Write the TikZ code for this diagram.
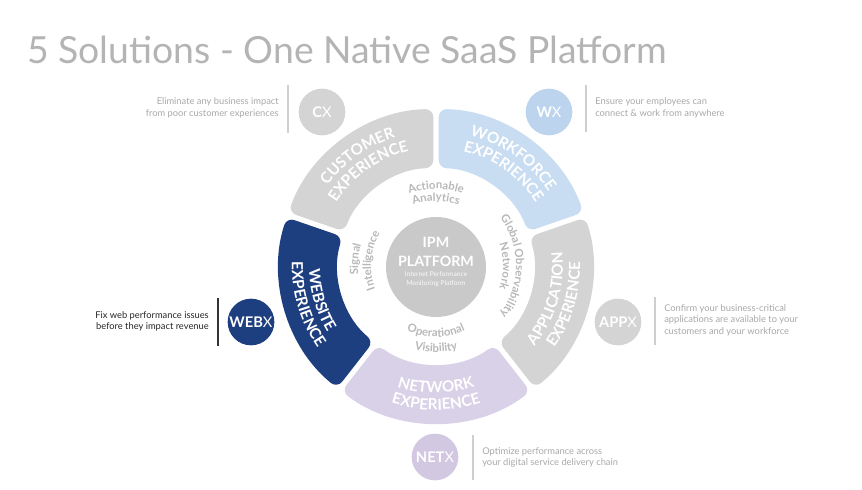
\documentclass[tikz,border=0pt]{standalone}
\usepackage{fontspec}
\setmainfont{Lato}
\newfontfamily\segfont[LetterSpace=8]{Lato}
\usetikzlibrary{decorations.text}

\definecolor{ringgray}{HTML}{D4D4D4}
\definecolor{ipmgray}{HTML}{C9C9C9}
\definecolor{wfblue}{HTML}{C8DCF2}
\definecolor{wxblue}{HTML}{BDD4EE}
\definecolor{netpurple}{HTML}{D9D1E7}
\definecolor{netxpurple}{HTML}{D3C8E2}
\definecolor{webnavy}{HTML}{1E3F7F}
\definecolor{labelgray}{HTML}{B8B8B8}
\definecolor{descgray}{HTML}{A9A9A9}
\definecolor{titlegray}{HTML}{B4B4B4}
\definecolor{linegray}{HTML}{CFCFCF}

\tikzset{
  badge/.style={circle, minimum size=35pt, inner sep=0pt, text=white,
    font=\fontsize{11}{12}\selectfont},
  desc/.style={inner sep=0pt, text=descgray, font=\fontsize{7}{8.6}\selectfont},
  sepline/.style={draw=linegray, line width=0.8pt},
  segtext/.style={decorate, decoration={text along path,
    text={|\fontsize{11.5}{13}\segfont\bfseries|#1}, text align=center, text color=white}},
  ringtext/.style={decorate, decoration={text along path,
    text={|\fontsize{8.5}{10}\selectfont\bfseries|#1}, text align=center, text color=labelgray}},
}

\begin{document}
\begin{tikzpicture}[x=0.75pt, y=0.75pt]
\useasboundingbox (0,0) rectangle (862,-489);
\fill[white] (0,0) rectangle (862,-489);

% title
\node[anchor=base west, inner sep=0pt, text=titlegray, font=\fontsize{28}{32}\selectfont] (title) at (27,-63) {5 Solutions - One Native SaaS Platform};

% ring round the platform
\def\rout{157}
\def\rin{98}
\begin{scope}[shift={(436,-266)}]
\fill[ringgray, rounded corners=6pt] (91:\rout) arc[start angle=91, end angle=160, radius=\rout] -- (159.4:\rin) arc[start angle=159.4, end angle=91.6, radius=\rin] -- cycle;
\fill[wfblue, rounded corners=6pt] (20:\rout) arc[start angle=20, end angle=89, radius=\rout] -- (88.4:\rin) arc[start angle=88.4, end angle=20.6, radius=\rin] -- cycle;
\fill[ringgray, rounded corners=6pt] (-51:\rout) arc[start angle=-51, end angle=18, radius=\rout] -- (17.4:\rin) arc[start angle=17.4, end angle=-50.4, radius=\rin] -- cycle;
\fill[netpurple, rounded corners=6pt] (-127:\rout) arc[start angle=-127, end angle=-53, radius=\rout] -- (-53.6:\rin) arc[start angle=-53.6, end angle=-126.4, radius=\rin] -- cycle;
\fill[webnavy, rounded corners=6pt] (162:\rout) arc[start angle=162, end angle=231, radius=\rout] -- (230.4:\rin) arc[start angle=230.4, end angle=162.6, radius=\rin] -- cycle;

% segment labels
\path[segtext=CUSTOMER] (161:135) arc[start angle=161, end angle=90, radius=135];
\path[segtext=EXPERIENCE] (161:118) arc[start angle=161, end angle=90, radius=118];
\path[segtext=WORKFORCE] (90:135) arc[start angle=90, end angle=19, radius=135];
\path[segtext=EXPERIENCE] (90:118) arc[start angle=90, end angle=19, radius=118];
\path[segtext=APPLICATION] (-52:127) arc[start angle=-52, end angle=19, radius=127];
\path[segtext=EXPERIENCE] (-52:144) arc[start angle=-52, end angle=19, radius=144];
\path[segtext=NETWORK] (-128:127) arc[start angle=-128, end angle=-52, radius=127];
\path[segtext=EXPERIENCE] (-128:144) arc[start angle=-128, end angle=-52, radius=144];
\path[segtext=WEBSITE] (161:127) arc[start angle=161, end angle=232, radius=127];
\path[segtext=EXPERIENCE] (161:144) arc[start angle=161, end angle=232, radius=144];

% labels on the white ring
\path[ringtext=Actionable] (130:77) arc[start angle=130, end angle=50, radius=77];
\path[ringtext=Analytics] (130:65) arc[start angle=130, end angle=50, radius=65];
\path[ringtext=Global Observability] (50:80) arc[start angle=50, end angle=-50, radius=80];
\path[ringtext=Network] (50:67) arc[start angle=50, end angle=-50, radius=67];
\path[ringtext=Signal] (215:78) arc[start angle=215, end angle=135, radius=78];
\path[ringtext=Intelligence] (215:65) arc[start angle=215, end angle=135, radius=65];
\path[ringtext=Operational] (-130:71) arc[start angle=-130, end angle=-50, radius=71];
\path[ringtext=Visibility] (-130:86) arc[start angle=-130, end angle=-50, radius=86];

% platform in the middle
\node[circle, fill=ipmgray, minimum size=75pt, inner sep=0pt] (ipm) at (0,-1) {};
\end{scope}
\node[align=center, text=white, font=\fontsize{10.7}{14}\bfseries] (ipmname) at (436,-252) {IPM\\PLATFORM};
\node[align=center, text=white!90!ipmgray, font=\fontsize{5}{6.7}\selectfont] (ipmsub) at (436,-279) {Internet Performance\\Monitoring Platform};

% solution badges
\node[badge, fill=ringgray] (cx) at (322,-112) {\textbf{C}X};
\node[badge, fill=wxblue] (wx) at (549,-112) {\textbf{W}X};
\node[badge, fill=webnavy] (webx) at (251,-322) {\textbf{WEB}X};
\node[badge, fill=ringgray] (appx) at (618,-322) {\textbf{APP}X};
\node[badge, fill=netxpurple] (netx) at (435,-457) {\textbf{NET}X};

% separators
\draw[sepline] (288,-85) -- (288,-133);
\draw[sepline] (586,-85) -- (586,-132);
\draw[sepline, draw=black!80] (218,-298) -- (218,-346);
\draw[sepline] (655,-297) -- (655,-345);
\draw[sepline] (473,-435) -- (473,-480);

% descriptions
\node[desc, anchor=east, align=right] (cxtext) at (279,-108) {Eliminate any business impact\\from poor customer experiences};
\node[desc, anchor=west, align=left] (wxtext) at (595,-108) {Ensure your employees can\\connect \& work from anywhere};
\node[desc, anchor=east, align=right, text=black!85] (webxtext) at (209,-321.5) {Fix web performance issues\\before they impact revenue};
\node[desc, anchor=west, align=left] (appxtext) at (664,-320) {Confirm your business-critical\\applications are available to your\\customers and your workforce};
\node[desc, anchor=west, align=left] (netxtext) at (482,-457.5) {Optimize performance across\\your digital service delivery chain};
\end{tikzpicture}
\end{document}
